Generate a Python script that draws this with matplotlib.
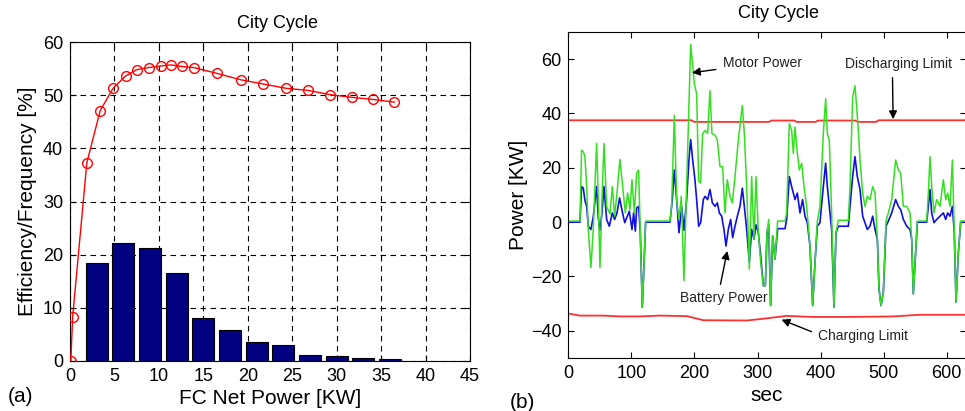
import numpy as np
import matplotlib
matplotlib.use("Agg")
import matplotlib.pyplot as plt

plt.rcParams['font.family'] = ['Liberation Sans', 'DejaVu Sans']

#-----------------------------------------------------------
# (a) FC efficiency curve and operating-point histogram
eff_power = [0.1, 0.3, 1.9, 3.4, 4.85, 6.25, 7.5, 8.85, 10.2, 11.35, 12.55, 13.9,
             16.55, 19.2, 21.75, 24.3, 26.8, 29.3, 31.7, 34.1, 36.5]
eff_value = [0, 8.3, 37.3, 47.1, 51.3, 53.6, 54.8, 55.2, 55.5, 55.7, 55.4, 55.2,
             54.1, 52.9, 52.1, 51.3, 50.9, 50.1, 49.6, 49.2, 48.7]

bar_power = [3, 6, 9, 12, 15, 18, 21, 24, 27, 30, 33, 36]
bar_freq = [18.5, 22.2, 21.3, 16.5, 8.0, 5.9, 3.6, 3.1, 1.2, 1.0, 0.56, 0.37]

#-----------------------------------------------------------
# (b) power profiles over the city cycle
motor_t = [0, 18.5, 21.1, 23.8, 26.4, 29.1, 31.7, 35.9, 39.6, 44.9, 47.6, 50.2, 53.4,
           56.6, 60.8, 66.1, 69.8, 73.5, 77.2, 81.9, 86.2, 90.4, 94.1, 97.8, 101,
           104.7, 108.4, 111.5, 114.2, 117.3, 120, 122.6, 161.2, 163.8, 168.1, 171.8,
           175.5, 179.2, 183.4, 187.6, 191.3, 194, 197.1, 199.8, 203.5, 206.7, 209.8,
           213, 217.2, 220.9, 224.6, 227.8, 232.6, 236.3, 240.5, 244.7, 248.4, 252.1,
           256.3, 260, 264.3, 269.6, 275.9, 279.1, 282.8, 287, 290.7, 294.4, 297.6,
           301.3, 305, 309.2, 312.4, 315, 317.7, 320.8, 324, 327.7, 331.9, 343.6,
           346.2, 350.4, 354.1, 356.8, 359.4, 362.6, 366.3, 370, 373.7, 377.9, 383.2,
           387.4, 391.1, 394.8, 399, 404.3, 408, 410.7, 413.8, 417.5, 421.2, 424.4,
           428.1, 444, 446.6, 450.8, 454.5, 457.2, 459.8, 462.5, 466.7, 470.4, 474.1,
           478.3, 482.6, 486.3, 490, 492.6, 495.8, 499.5, 503.7, 507.4, 512.7, 519,
           523.3, 527, 531.2, 536.5, 541.8, 544.4, 547, 550.7, 553.4, 568.2, 570.8,
           573.5, 576.1, 579.8, 584, 589.3, 594.6, 598.3, 601.5, 605.2, 608.9, 612,
           614.7, 618.4, 622.1, 630]
motor_p = [0.4, 0.4, 26.5, 25.9, 24.1, 13.1, -2.7, -16.7, -2.7, 29, 8.3, -16.7, 8.3,
           29, 5.8, 3, 13.1, 2.2, 10.7, 23.1, 13.1, 3.4, 10.7, 4.6, 15.6,
           3.4, 18, 19.2, -3.9, -31.3, -16, 0.4, 0.4, 5.8, 39.3, 8.3,
           1, 9.5, -21.5, 13.1, 42.3, 65.5, 58.2, 50.9, 47.2, 15, 14.4,
           32.6, 33.8, 32.6, 48.4, 32.6, 32, 30.2, 20.4, 20.4, 3.4, 15.6,
           9.5, 7.1, 16.8, 30.2, 42.9, 32.6, 13.1, -17.3, 16.8, -6.3, 16.8,
           -3.9, -14.8, -23.4, -23.4, -3.9, 1, -30.7, -5.1, -13.6, 0.4, 0.4,
           3.4, 36.3, 33.8, 25.3, 35, 26.5, 19.2, 21.7, 13.1, 5.8, -8.8,
           -30.7, -14.8, 0.4, 5.8, 32.6, 45.4, 32.6, 30.2, 3.4, -31.3, -3.9,
           0.7, 0.7, 13.1, 46, 50.2, 42.3, 33.8, 22.9, 10.7, 5.8, 9.5,
           8.3, 13.1, 10.7, -6.3, -24.6, -30.7, -25.8, 0.4, 3.4, 8.3, 22.9,
           19.2, 18, 5.8, 5.8, 3.4, -6.3, -26.4, -11.2, 0.4, 0.4, 10.7,
           24.1, 13.1, 3.4, 8.3, 5.8, 15.6, 8.3, 10.7, 5.8, 22.9, -3.9,
           -29.4, -11.2, 0.4, 0.4]

batt_t = [0, 18.5, 21.1, 23.8, 26.4, 29.1, 31.7, 35.9, 39.6, 44.9, 47.6, 50.2, 53.4,
          56.6, 60.8, 65, 69.8, 73.5, 77.2, 81.3, 86, 89.5, 93.6, 96.7, 101, 103.6,
          106.3, 108.4, 111.5, 114.2, 117.3, 120, 122.6, 161.2, 164.9, 168.1, 171.8,
          175.5, 179.7, 183.4, 187.6, 191.3, 194, 197.1, 200.8, 203.5, 206.7, 209.8,
          214.1, 216.7, 220.9, 224.6, 228.4, 232.6, 236.3, 239.5, 243.2, 246.8, 250,
          253.7, 257.4, 260.6, 264.3, 268, 272.2, 275.9, 279.1, 282.8, 287, 290.7,
          294.4, 297.6, 301.3, 305, 309.2, 312.4, 315, 317.7, 320.8, 324, 327.7,
          331.9, 343.6, 346.2, 350.4, 354.1, 359.4, 363.1, 367.3, 371.5, 375.2, 378.9,
          383.2, 387.4, 391.1, 394.8, 399, 404.3, 408, 410.7, 413.8, 417.5, 421.2,
          424.4, 428.1, 444, 446.6, 450.8, 454.5, 458.2, 462.5, 466.7, 470.4, 474.1,
          478.3, 482.6, 486.3, 490, 492.6, 495.8, 499.5, 503.7, 507.4, 512.7, 519,
          523.3, 527, 531.2, 536.5, 541.8, 544.4, 547, 550.7, 553.4, 568.2, 570.8,
          573.5, 576.1, 579.8, 584, 589.3, 594.6, 598.3, 601.5, 605.2, 608.9, 612,
          614.7, 618.4, 622.1, 630]
batt_p = [0, 0, 13.1, 12.5, 8, 5.8, -1.5, -2.7, 2, 13.1, 1.5, -3, 3.4,
          13.1, 1, -1.5, 3.4, 1, 3.4, 8.9, 3.4, -0.2, 2.2, 4, -2.7, 3.4,
          -3.3, 5.2, 5.8, -3.9, -31.3, -16, 0, 0, 8.3, 19.2, 8.3,
          -3.9, 5.8, -3, 8.3, 23.1, 30.4, 23.1, 15.6, 8.3, -1.5, -0.2,
          8.3, 9.5, 8.3, 12, 7.1, 5.8, 7.1, 3.4, 2.2, -2.7, -8.8,
          -2.7, 1, -5.7, -1.5, 2.2, 5.8, 12.5, 5.8, -2.7, -14.8, -2.7,
          -6.3, -1, -3.9, -12.4, -23.4, -23.4, -3.9, -1, -30.7, -5.1, -13.6,
          -2.4, -2.4, 1, 16.8, 13.1, 8.3, 10.7, 3.4, 8.3, 2.2, -0.2,
          -8.8, -30.7, -14.8, -1.5, -0.2, 13.1, 21.7, 13.1, 5.8, -2.7, -31.3,
          -3.9, -1.5, -1.5, 5.8, 16.8, 24.1, 16.8, 12, 2.2, -0.2, -2.7,
          -1.5, 2.2, -2.7, -6.3, -24.6, -30.7, -25.8, -1.5, 0.4, 3.4, 8.3,
          5.8, 4.6, 1, -1.5, -2.7, -6.3, -26.4, -11.2, 0, 0, 5.8,
          12, 3.4, -0.2, 1, 2.2, 3.4, 1, 3.4, 2.2, 5.8, -3.9,
          -29.4, -11.2, 0, 0]

dis_t = [0, 195, 200, 318, 322, 358, 362, 392, 396, 455, 459, 488, 492, 630]
dis_p = [37.5, 37.5, 36.9, 36.9, 37.4, 37.4, 36.9, 36.9, 37.4, 37.4, 36.9, 36.9, 37.5, 37.5]

chg_t = [0, 18, 30, 55, 82, 114, 145, 188, 214, 283, 304, 346, 388, 441, 515, 557, 630]
chg_p = [-33.6, -34.4, -34.4, -34.4, -34.7, -34.7, -34.4, -34.6, -36.1, -36.2, -35.7,
         -34.5, -34.9, -34.9, -34.7, -34.1, -34.1]

#-----------------------------------------------------------
fig = plt.figure(figsize=(9.65, 4.11), dpi=100)

tick_kw = dict(direction='in', top=True, right=True, length=4, width=0.8,
               labelsize=13, pad=5)

# panel (a)
ax1 = fig.add_axes([0.0725, 0.1217, 0.4145, 0.776])
ax1.bar(bar_power, bar_freq, width=2.45, color='#000080', edgecolor='black',
        linewidth=0.8, zorder=2)
ax1.plot(eff_power, eff_value, '-o', color='red', linewidth=1.0,
         markersize=7, markerfacecolor='none', markeredgewidth=1.0, zorder=3)
ax1.set_xlim(0, 45)
ax1.set_ylim(0, 60)
ax1.set_xticks(np.arange(0, 46, 5))
ax1.set_yticks(np.arange(0, 61, 10))
ax1.grid(True, color='black', linestyle=(0, (5, 4)), linewidth=0.8)
ax1.set_axisbelow(True)
ax1.tick_params(**tick_kw)
ax1.set_xlabel('FC Net Power [KW]', fontsize=15, labelpad=3)
ax1.set_ylabel('Efficiency/Frequency [%]', fontsize=15, labelpad=4)
ax1.set_title('City Cycle', fontsize=13, x=0.518, pad=10)

# panel (b)
ax2 = fig.add_axes([0.5889, 0.129, 0.4118, 0.7932])
ax2.plot(dis_t, dis_p, color='#ff3030', linewidth=1.3)
ax2.plot(chg_t, chg_p, color='#ff3030', linewidth=1.3)
ax2.plot(batt_t, batt_p, color='#1010e0', linewidth=1.2)
ax2.plot(motor_t, motor_p, color='#33e020', linewidth=1.1)
ax2.set_xlim(0, 630)
ax2.set_ylim(-50, 70)
ax2.set_xticks(np.arange(0, 601, 100))
ax2.set_yticks(np.arange(-40, 61, 20))
ax2.tick_params(**tick_kw)
ax2.set_xlabel('sec', fontsize=15, labelpad=3)
ax2.set_ylabel('Power [KW]', fontsize=15, labelpad=2)
ax2.set_title('City Cycle', fontsize=13, x=0.528, pad=10)

arrow = dict(arrowstyle='-|>', color='black', linewidth=1.0, mutation_scale=12,
             shrinkA=3, shrinkB=0)
ax2.annotate('Motor Power', xy=(196, 55), xytext=(245, 58.5), fontsize=10,
             color='#222222', va='center', ha='left', arrowprops=arrow)
ax2.annotate('Discharging Limit', xy=(515, 37.9), xytext=(524, 58.3), fontsize=10,
             color='#222222', va='center', ha='center',
             arrowprops=dict(arrow, relpos=(0.44, 0.0)))
ax2.annotate('Battery Power', xy=(252, -10.6), xytext=(246, -28), fontsize=10,
             color='#222222', va='center', ha='center',
             arrowprops=dict(arrow, relpos=(0.45, 1.0)))
ax2.annotate('Charging Limit', xy=(338, -35.9), xytext=(396, -41.8), fontsize=10,
             color='#222222', va='center', ha='left',
             arrowprops=dict(arrow, relpos=(0.0, 0.6)))

fig.text(8 / 965, 1 - 396 / 411, '(a)', fontsize=15, va='center', ha='left')
fig.text(510 / 965, 1 - 402 / 411, '(b)', fontsize=15, va='center', ha='left')

plt.savefig('out.png', dpi=100)
